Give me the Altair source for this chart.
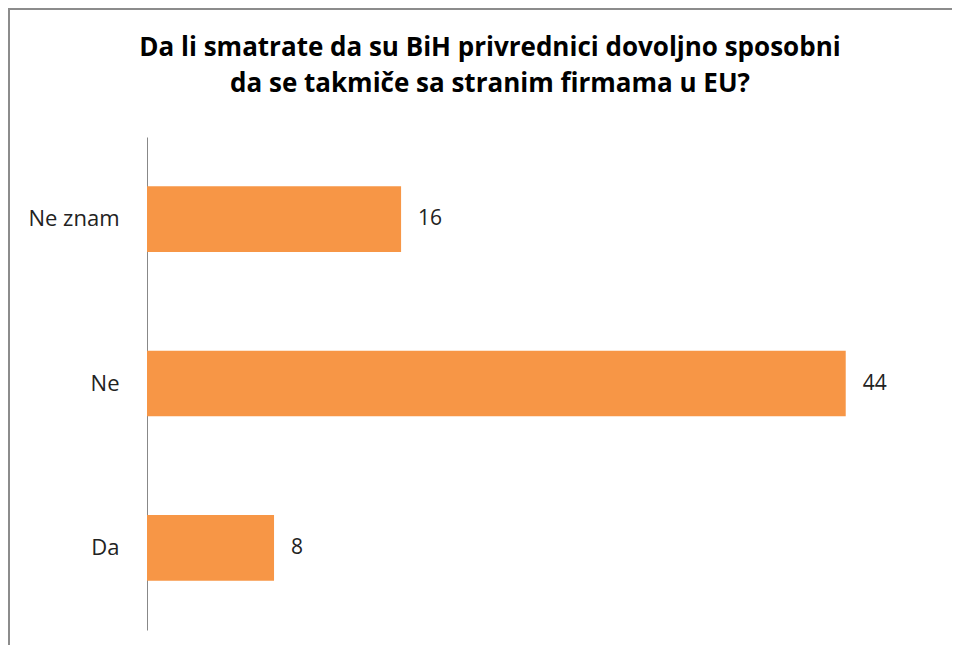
import altair as alt
import pandas as pd

categories = ["Ne znam", "Ne", "Da"]
values = [16, 44, 8]
title_text = ("Da li smatrate da su BiH privrednici dovoljno sposobni\n"
              "da se takmiče sa stranim firmama u EU?")

df = pd.DataFrame({"odgovor": categories, "broj": values})

W, H = 794, 493
PL, PT, PR, PB = 139, 129, 11, 15

y_enc = alt.Y("odgovor:N", sort=categories,
              scale=alt.Scale(paddingInner=0.6, paddingOuter=0.3),
              axis=alt.Axis(title=None, ticks=False, domainColor="#888888",
                            domainWidth=1, labelPadding=28, labelFontSize=22,
                            labelFont="Open Sans", labelColor="#222222"))
x_enc = alt.X("broj:Q", scale=alt.Scale(domain=[0, 50]), axis=None)

bars = alt.Chart(df).mark_bar(color="#F79646").encode(x=x_enc, y=y_enc)
labels = alt.Chart(df).mark_text(align="left", baseline="middle", dx=17,
                                 fontSize=21, font="Open Sans",
                                 color="#222222").encode(
    x=x_enc, y=alt.Y("odgovor:N", sort=categories), text="broj:Q")

one = pd.DataFrame({"a": [0]})
top_line = alt.Chart(one).mark_rule(stroke="#8c8c8c", strokeWidth=2).encode(
    x=alt.value(-PL), x2=alt.value(W + PR), y=alt.value(-PT + 1), y2=alt.value(-PT + 1))
left_line = alt.Chart(one).mark_rule(stroke="#8c8c8c", strokeWidth=2).encode(
    x=alt.value(-PL + 1), x2=alt.value(-PL + 1), y=alt.value(-PT), y2=alt.value(H + PB))
title = alt.Chart(one).mark_text(
    align="center", baseline="alphabetic", lineBreak="\n", lineHeight=36,
    font="Open Sans", fontSize=26, fontWeight="bold", color="#000000").encode(
    x=alt.value(490 - 8 - PL), y=alt.value(56 - 8 - PT), text=alt.value(title_text))

chart = alt.layer(top_line, left_line, title, bars, labels).properties(
    width=W, height=H,
    padding={"left": PL, "top": PT, "right": PR, "bottom": PB},
    autosize=alt.AutoSizeParams(type="none"),
).configure_view(stroke=None)

chart.save("out.html", embed_options={"renderer": "svg", "actions": False})
